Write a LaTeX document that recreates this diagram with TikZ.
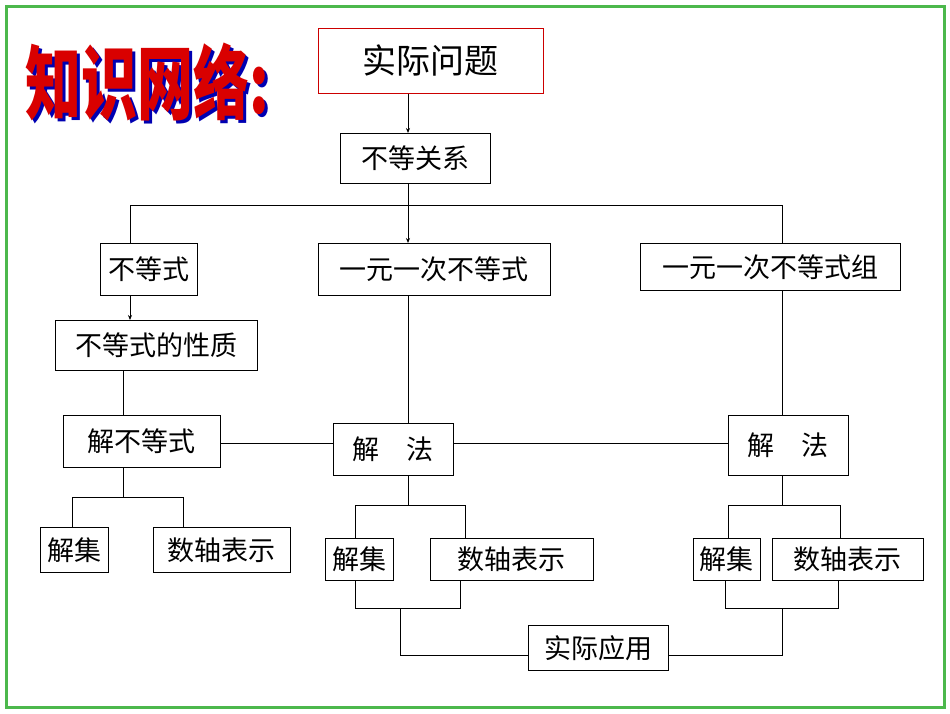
\documentclass[tikz,border=0pt]{standalone}
\usepackage{fontspec}
\newfontfamily\cjk{Noto Sans CJK SC}
\usetikzlibrary{arrows.meta}
\tikzset{
 bx/.style={draw=black,line width=0.8pt,anchor=north west,inner sep=0pt,font=\cjk\fontsize{27}{27}\selectfont},
 ln/.style={line width=0.8pt},
 ar/.style={line width=0.8pt,-{Stealth[length=5pt,width=4pt]}}
}
\newcommand{\bxn}[6]{\node[bx,minimum width=#4-#2,minimum height=#5-#3] (#1) at (#2,#3) {#6};}
\begin{document}
\begin{tikzpicture}[x=1pt,y=-1pt]
\useasboundingbox (0,0) rectangle (950,713);
\fill[white] (0,0) rectangle (950,713);
\draw[green!60!black!70,line width=3pt] (6,6) rectangle (944,707);
% title
\node[font=\cjk\bfseries\fontsize{56}{56}\selectfont,text=blue!70!black,yscale=1.45,transform shape] (tsh) at (150,85) {知识网络:};
\node[font=\cjk\bfseries\fontsize{56}{56}\selectfont,text=red!85!black,yscale=1.45,transform shape] (tt) at (147,82) {知识网络:};
% boxes
\node[bx,draw=red!80!black,minimum width=225,minimum height=65,font=\cjk\fontsize{34}{34}\selectfont] (sj) at (318,28) {实际问题};
\bxn{bd}{340}{133}{490}{183}{不等关系}
\bxn{bds}{100}{243}{197}{295}{不等式}
\bxn{yy}{318}{243}{550}{295}{一元一次不等式}
\bxn{yz}{640}{243}{900}{290}{一元一次不等式组}
\bxn{xz}{55}{320}{257}{370}{不等式的性质}
\bxn{jb}{63}{415}{220}{467}{解不等式}
\bxn{jfm}{333}{423}{453}{475}{解\quad 法}
\bxn{jfr}{728}{415}{848}{475}{解\quad 法}
\bxn{jjl}{40}{527}{108}{572}{解集}
\bxn{szl}{153}{527}{290}{572}{数轴表示}
\bxn{jjm}{325}{538}{393}{580}{解集}
\bxn{szm}{430}{538}{593}{580}{数轴表示}
\bxn{jjr}{693}{538}{760}{580}{解集}
\bxn{szr}{772}{538}{923}{580}{数轴表示}
\bxn{yy2}{528}{625}{668}{670}{实际应用}
% connectors
\draw[ar] (sj.south -| 408,0) -- (bd.north -| 408,0);
\draw[ln] (bd.south -| 408,0) -- (408,205);
\draw[ln] (130,205) -- (782,205);
\draw[ln] (130,205) -- (bds.north -| 130,0);
\draw[ar] (408,205) -- (yy.north -| 408,0);
\draw[ln] (782,205) -- (yz.north -| 782,0);
\draw[ar] (bds.south -| 130,0) -- (xz.north -| 130,0);
\draw[ln] (xz.south -| 123,0) -- (jb.north -| 123,0);
\draw[ln] (jb.east |- 0,443) -- (jfm.west |- 0,443);
\draw[ln] (jfm.east |- 0,443) -- (jfr.west |- 0,443);
\draw[ln] (yy.south -| 408,0) -- (jfm.north -| 408,0);
\draw[ln] (yz.south -| 782,0) -- (jfr.north -| 782,0);
\draw[ln] (jb.south -| 123,0) -- (123,497);
\draw[ln] (jjl.north -| 72,0) -- (72,497) -- (183,497) -- (szl.north -| 183,0);
\draw[ln] (jfm.south -| 408,0) -- (408,505);
\draw[ln] (jjm.north -| 355,0) -- (355,505) -- (465,505) -- (szm.north -| 465,0);
\draw[ln] (jjm.south -| 355,0) -- (355,608) -- (460,608) -- (szm.south -| 460,0);
\draw[ln] (400,608) -- (400,655) -- (yy2.west |- 0,655);
\draw[ln] (jfr.south -| 782,0) -- (782,505);
\draw[ln] (jjr.north -| 728,0) -- (728,505) -- (840,505) -- (szr.north -| 840,0);
\draw[ln] (jjr.south -| 725,0) -- (725,608) -- (838,608) -- (szr.south -| 838,0);
\draw[ln] (782,608) -- (782,655) -- (yy2.east |- 0,655);
\end{tikzpicture}
\end{document}
